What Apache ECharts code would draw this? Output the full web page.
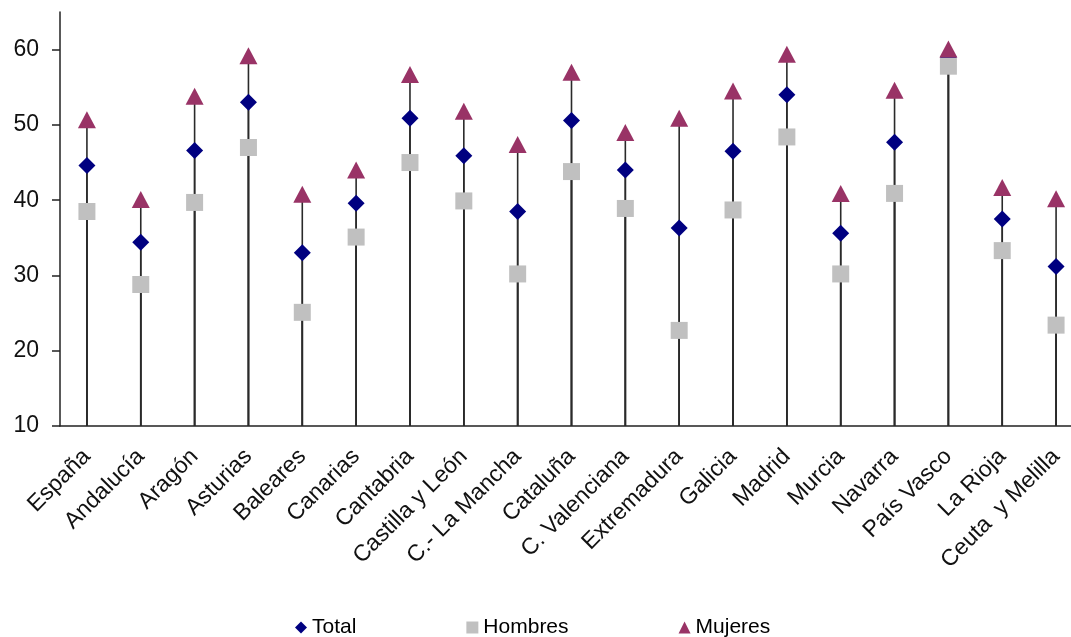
<!DOCTYPE html>
<html>
<head>
<meta charset="utf-8">
<script src="https://cdn.jsdelivr.net/npm/echarts@6/dist/echarts.min.js"></script>
<style>html,body{margin:0;padding:0;background:#fff}#c{width:1071px;height:637px}</style>
</head>
<body>
<div id="c"></div>
<script>
const categories = ['España','Andalucía','Aragón','Asturias','Baleares','Canarias','Cantabria','Castilla y León','C.- La Mancha','Cataluña','C. Valenciana','Extremadura','Galicia','Madrid','Murcia','Navarra','País Vasco','La Rioja','Ceuta  y Melilla'];
const total   = [44.6, 34.4, 46.6, 53.0, 33.0, 39.6, 50.9, 45.9, 38.5, 50.6, 44.0, 36.3, 46.5, 54.0, 35.6, 47.7, 59.0, 37.5, 31.2];
const hombres = [38.5, 28.8, 39.7, 47.0, 25.1, 35.1, 45.0, 39.9, 30.2, 43.8, 38.9, 22.7, 38.7, 48.4, 30.2, 40.9, 57.8, 33.3, 23.4];
const mujeres = [50.7, 40.1, 53.8, 59.2, 40.8, 44.0, 56.7, 51.8, 47.4, 57.0, 49.0, 50.9, 54.5, 59.4, 40.9, 54.6, 60.1, 41.7, 40.2];
const yTicks = [10, 20, 30, 40, 50, 60];

const chart = echarts.init(document.getElementById('c'), null, {renderer: 'canvas'});
const font = 'Liberation Sans, Arial, sans-serif';
function drop(name, data) {
  return { name: name, type: 'bar', data: data, barWidth: 1.6, barGap: '-100%',
    itemStyle: { color: '#2a2a2a' }, silent: true, z: 1, clip: true };
}
chart.setOption({
  animation: false,
  backgroundColor: '#ffffff',
  grid: { left: 60, top: 12, right: -12, bottom: 211, outerBoundsMode: 'none', containLabel: false },
  legend: {
    data: ['Total', 'Hombres', 'Mujeres'],
    left: 290, top: 612, itemWidth: 12, itemHeight: 12, itemGap: 110,
    textStyle: { fontFamily: font, fontSize: 21, color: '#000' }
  },
  xAxis: {
    type: 'category', data: categories,
    axisLine: { lineStyle: { color: '#222', width: 1.5 } },
    axisTick: { show: false },
    axisLabel: { rotate: 45, interval: 0, margin: 27, fontFamily: font, fontSize: 23, color: '#111' }
  },
  yAxis: {
    type: 'value', min: 10, max: 65, interval: 10,
    axisLine: { show: true, lineStyle: { color: '#222', width: 1.5 } },
    axisTick: { show: true, length: 8, customValues: yTicks, lineStyle: { color: '#222', width: 1.5 } },
    axisLabel: { customValues: yTicks, margin: 21, fontFamily: font, fontSize: 23, color: '#111' },
    splitLine: { show: false }
  },
  series: [
    drop('dl1', mujeres), drop('dl2', total), drop('dl3', hombres),
    { name: 'Total', type: 'scatter', data: total, symbol: 'diamond', symbolSize: [17, 17],
      itemStyle: { color: '#000080', opacity: 1 }, z: 3 },
    { name: 'Hombres', type: 'scatter', data: hombres, symbol: 'rect', symbolSize: [17, 17],
      itemStyle: { color: '#c0c0c0', opacity: 1 }, z: 4 },
    { name: 'Mujeres', type: 'scatter', data: mujeres, symbol: 'triangle', symbolSize: [18, 17],
      itemStyle: { color: '#993366', opacity: 1 }, z: 5 }
  ]
});
</script>
</body>
</html>
